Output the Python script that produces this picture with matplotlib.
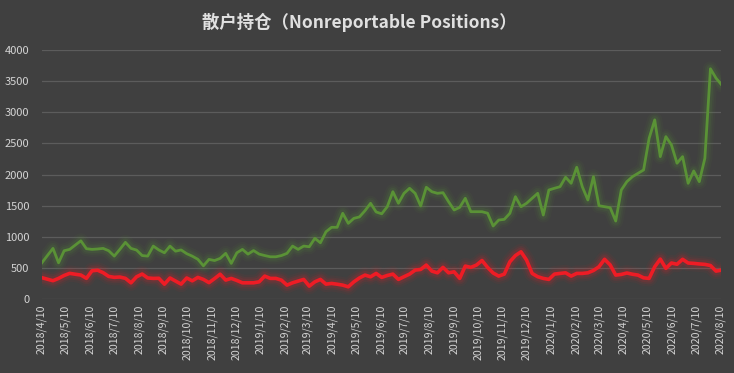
import matplotlib
matplotlib.use("Agg")
import matplotlib.pyplot as plt
import matplotlib.dates as mdates
from matplotlib.ticker import FuncFormatter
import numpy as np
import pandas as pd

plt.rcParams['font.family'] = ['Noto Sans CJK SC', 'DejaVu Sans']

# weekly COT reports (Tuesdays), 2018/4/10 .. 2020/8/11
START_DATE = "2018-04-10"
END_DATE = "2020-08-11"

long_positions = [
    583, 700, 815, 583, 777, 799, 868, 937, 810, 799,
    805, 815, 777, 691, 799, 912, 815, 788, 700, 691,
    852, 790, 744, 852, 770, 790, 730, 690, 640, 535,
    638, 620, 654, 735, 574, 744, 799, 723, 780, 723,
    700, 680, 680, 700, 735, 852, 799, 852, 841, 976,
    905, 1082, 1153, 1153, 1378, 1217, 1297, 1320, 1420, 1539,
    1400, 1370, 1484, 1725, 1539, 1699, 1780, 1699, 1495, 1796,
    1725, 1699, 1709, 1564, 1431, 1474, 1619, 1404, 1404, 1404,
    1380, 1174, 1270, 1281, 1378, 1645, 1484, 1539, 1620, 1699,
    1350, 1752, 1780, 1805, 1957, 1860, 2117, 1805, 1592, 1966,
    1500, 1484, 1468, 1254, 1752, 1886, 1966, 2020, 2074, 2584,
    2878, 2288, 2609, 2476, 2182, 2288, 1860, 2058, 1886, 2262,
    3698, 3548, 3440,
]

short_positions = [
    345, 320, 296, 333, 380, 414, 400, 387, 334, 455,
    465, 425, 365, 350, 355, 334, 262, 359, 403, 340,
    333, 335, 240, 340, 290, 241, 340, 294, 349, 317,
    265, 330, 400, 306, 333, 300, 262, 262, 262, 278,
    370, 333, 333, 305, 225, 262, 290, 317, 209, 278,
    317, 241, 252, 240, 225, 198, 278, 340, 386, 359,
    413, 349, 380, 402, 317, 360, 402, 466, 477, 547,
    450, 423, 510, 423, 439, 333, 531, 510, 547, 620,
    510, 420, 370, 402, 600, 700, 760, 627, 413, 360,
    333, 317, 402, 413, 423, 370, 413, 413, 423, 460,
    520, 640, 550, 386, 397, 420, 400, 386, 342, 333,
    520, 643, 494, 580, 560, 640, 580, 574, 565, 558,
    540, 450, 466,
]

TITLE = "散户持仓（Nonreportable Positions）"
Y_TICKS = [0, 500, 1000, 1500, 2000, 2500, 3000, 3500, 4000]

BG = "#404040"
GRID = "#5c5c5c"
TEXT = "#d4d4d4"
GREEN = "#5a9236"
RED = "#ee1c25"


def glow_line(ax, x, y, color, lw):
    # soft halo under the line, like the excel "glow" effect
    for extra, alpha in [(9, 0.05), (6, 0.08), (3.5, 0.12)]:
        ax.plot(x, y, color=color, lw=lw + extra, alpha=alpha,
                solid_capstyle="round", solid_joinstyle="round")
    ax.plot(x, y, color=color, lw=lw, solid_joinstyle="round")


def main():
    dates = pd.date_range(START_DATE, END_DATE, freq="7D")
    assert len(dates) == len(long_positions) == len(short_positions)

    fig = plt.figure(figsize=(7.34, 3.73), dpi=100, facecolor=BG)
    ax = fig.add_axes([0.057, 0.198, 0.925, 0.668])
    ax.set_facecolor(BG)

    glow_line(ax, dates, long_positions, GREEN, 2.0)
    glow_line(ax, dates, short_positions, RED, 2.6)

    ax.set_ylim(0, 4000)
    ax.set_yticks(Y_TICKS)
    ax.set_xlim(pd.Timestamp("2018-04-10"), pd.Timestamp("2020-08-10"))
    ax.xaxis.set_major_locator(mdates.MonthLocator(bymonthday=10))
    ax.xaxis.set_major_formatter(FuncFormatter(
        lambda v, pos: (lambda d: f"{d.year}/{d.month}/{d.day}")(mdates.num2date(v))))

    ax.grid(axis="y", color=GRID, lw=0.9)
    ax.set_axisbelow(True)
    for s in ax.spines.values():
        s.set_visible(False)
    ax.tick_params(axis="both", length=0, colors=TEXT)
    ax.tick_params(axis="y", labelsize=8, pad=9)
    ax.tick_params(axis="x", labelsize=7.6, pad=4, labelrotation=90)

    fig.text(0.49, 0.94, TITLE, ha="center", va="center",
             fontsize=12.5, fontweight="bold", color="#e0e0e0")

    fig.savefig("out.png", dpi=100, facecolor=BG)


if __name__ == "__main__":
    main()
